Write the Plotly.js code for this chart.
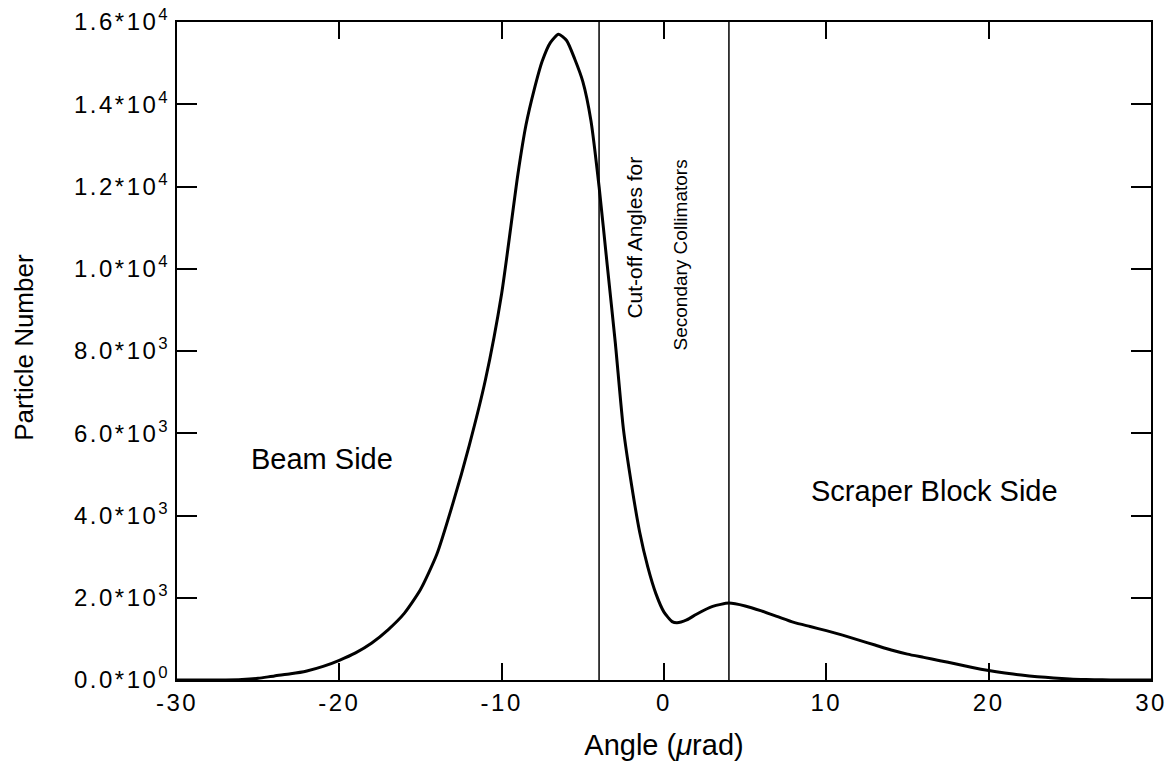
<!DOCTYPE html>
<html>
<head>
<meta charset="utf-8">
<script src="https://cdn.plot.ly/plotly-3.0.1.min.js"></script>
<style>
html,body{margin:0;padding:0;background:#fff;}
#chart{width:1171px;height:771px;}
#chart .xtick text, #chart .ytick text {letter-spacing: 2.5px;}
</style>
</head>
<body>
<div id="chart"></div>
<script>
const angle = [-30, -27, -26, -25, -24, -23, -22, -21, -20, -19, -18, -17, -16, -15, -14, -13, -12, -11, -10, -9, -8.5, -8, -7.5, -7, -6.5, -6, -5.5, -5, -4.5, -4, -3.5, -3, -2.5, -2, -1.5, -1, -0.5, 0, 0.5, 0.8, 1.4, 2, 3, 4, 5, 6, 7, 8, 9, 10, 11, 12, 13, 14, 15, 16, 17, 18, 19, 20, 21, 22, 23, 24, 25, 26, 27, 28, 30];
const particles = [0, 0, 10, 40, 100, 150, 220, 330, 480, 660, 900, 1220, 1620, 2200, 3050, 4300, 5700, 7300, 9400, 12300, 13500, 14350, 15050, 15500, 15700, 15550, 15100, 14550, 13600, 12000, 10100, 8200, 6100, 4750, 3600, 2750, 2100, 1650, 1420, 1390, 1460, 1600, 1790, 1870, 1800, 1680, 1540, 1400, 1300, 1200, 1090, 970, 850, 730, 630, 550, 470, 390, 305, 230, 170, 120, 80, 50, 25, 12, 5, 0, 0];
const cutoffAngles = [-4, 4];
const yTickVals = [0, 2000, 4000, 6000, 8000, 10000, 12000, 14000, 16000];
const yTickText = ["0.0*10<sup>0</sup>", "2.0*10<sup>3</sup>", "4.0*10<sup>3</sup>", "6.0*10<sup>3</sup>", "8.0*10<sup>3</sup>", "1.0*10<sup>4</sup>", "1.2*10<sup>4</sup>", "1.4*10<sup>4</sup>", "1.6*10<sup>4</sup>"];
const xTickVals = [-30, -20, -10, 0, 10, 20, 30];

const font = "Liberation Sans, Arial, Helvetica, sans-serif";
const narrow = "Liberation Sans Narrow, Arial Narrow, Liberation Sans, sans-serif";

const trace = {
  x: angle, y: particles, type: 'scatter', mode: 'lines',
  line: {color: '#000', width: 3, shape: 'spline', smoothing: 0.6},
  hoverinfo: 'skip'
};

const shapes = cutoffAngles.map(a => ({
  type: 'line', xref: 'x', yref: 'y', x0: a, x1: a, y0: 0, y1: 16000,
  line: {color: '#000', width: 1.5}
}));

const ann = (x, y, text, size, fam, angleDeg) => ({
  xref: 'paper', yref: 'paper', x: x, y: y, text: text, showarrow: false,
  xanchor: 'center', yanchor: 'middle', textangle: angleDeg || 0,
  font: {family: fam, size: size, color: '#000'}
});

const layout = {
  width: 1171, height: 771,
  margin: {l: 177, r: 20, t: 22, b: 91},
  paper_bgcolor: '#fff', plot_bgcolor: '#fff',
  showlegend: false,
  font: {family: font, color: '#000', size: 24},
  xaxis: {
    range: [-30, 30], tickvals: xTickVals, ticktext: xTickVals.map(String),
    ticks: 'inside', ticklen: 17, tickwidth: 2, tickcolor: '#000',
    showline: true, linewidth: 2, linecolor: '#000', mirror: 'ticks',
    showgrid: false, zeroline: false,
    tickfont: {family: font, size: 24, color: '#000'},
    title: {text: 'Angle (<i>μ</i>rad)', font: {family: font, size: 29, color: '#000'}, standoff: 20}
  },
  yaxis: {
    range: [0, 16000], tickvals: yTickVals, ticktext: yTickText,
    ticks: 'inside', ticklen: 20, tickwidth: 2, tickcolor: '#000',
    showline: true, linewidth: 2, linecolor: '#000', mirror: 'ticks',
    showgrid: false, zeroline: false,
    tickfont: {family: font, size: 24, color: '#000'}
  },
  shapes: shapes,
  annotations: [
    ann(0.149, 0.336, 'Beam Side', 29, font),
    ann(0.778, 0.287, 'Scraper Block Side', 29, font),
    ann(0.470, 0.672, 'Cut-off Angles for', 21, narrow, -90),
    ann(0.517, 0.646, 'Secondary Collimators', 19, narrow, -90),
    ann(-0.157, 0.505, 'Particle Number', 26, font, -90)
  ]
};

Plotly.newPlot('chart', [trace], layout, {staticPlot: true, displayModeBar: false});
</script>
</body>
</html>
